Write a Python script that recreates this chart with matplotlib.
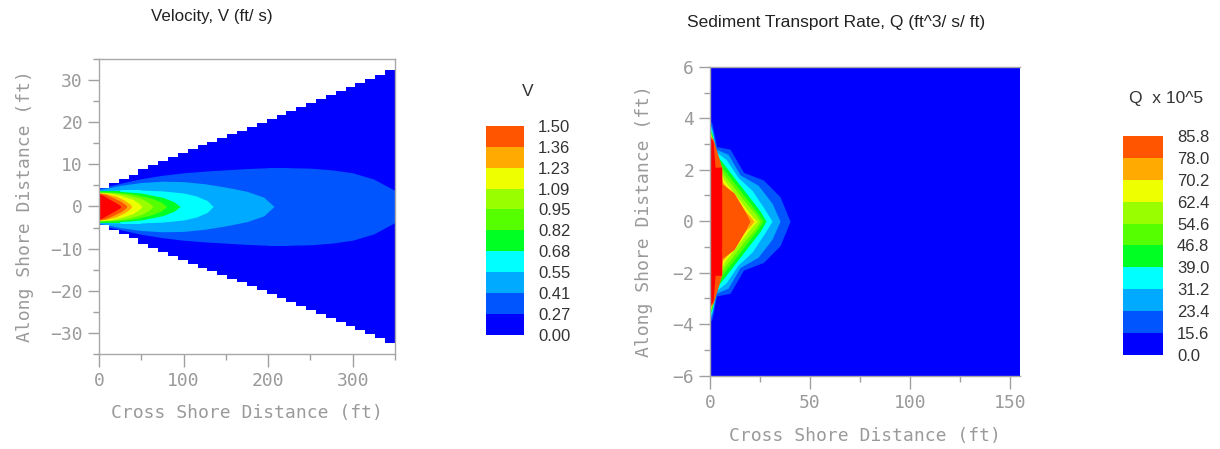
import numpy as np
import matplotlib.pyplot as plt
from matplotlib.colors import ListedColormap, BoundaryNorm
from matplotlib.cm import ScalarMappable
from matplotlib.ticker import MultipleLocator

plt.rcParams['font.family'] = ['DejaVu Sans Mono']

# colour bands (shared by both panels), lowest band first, last one = above top level
band_colors = ['#0000ff', '#0055ff', '#00aaff', '#00ffff', '#00ff22',
               '#55ff00', '#99ff00', '#eeff00', '#ffaa00', '#ff5500']
over_color = '#ff0000'

# ---------------- velocity panel ----------------
v_levels = [0.00, 0.27, 0.41, 0.55, 0.68, 0.82, 0.95, 1.09, 1.23, 1.36, 1.50]

# stepped edge of the wetted wedge (cell edges in x, half-width in y)
wedge_x = [0, 11.7, 23.3, 35, 46.7, 58.3, 70, 81.7, 93.3, 105, 116.7, 128.3,
           140, 151.7, 163.3, 175, 186.7, 198.3, 210, 221.7, 233.3, 245,
           256.7, 268.3, 280, 291.7, 303.3, 315, 326.7, 338.3, 350]
wedge_w = [4.5, 5.5, 6.5, 7.5, 8.8, 9.8, 10.8, 11.8, 12.8, 13.7, 14.5, 15.4,
           16.3, 17.2, 18.0, 18.9, 19.8, 20.7, 21.6, 22.6, 23.6, 24.6,
           25.6, 26.5, 27.4, 28.3, 29.3, 30.3, 31.3, 32.5, 33.8]

# contour half-widths, one pair per level
v027_x = [0, 25, 50, 75, 100, 125, 150, 175, 200, 225, 250, 275, 300, 325, 350]
v027_w = [4.3, 5.5, 6.6, 7.4, 8.0, 8.4, 8.7, 9.0, 9.2, 9.2, 9.1, 8.7, 8.0, 6.5, 3.8]
v041_x = [0, 25, 50, 75, 100, 125, 150, 175, 195, 207]
v041_w = [4.0, 5.0, 5.7, 6.0, 5.9, 5.4, 4.6, 3.6, 2.2, 0]
v055_x = [0, 25, 50, 75, 100, 115, 128, 135]
v055_w = [3.8, 3.9, 3.9, 3.7, 3.2, 2.5, 1.4, 0]
v068_x = [0, 25, 50, 75, 88, 96]
v068_w = [3.6, 3.6, 3.2, 2.2, 1.2, 0]
v082_x = [0, 20, 40, 62, 74, 80]
v082_w = [3.5, 3.4, 3.0, 2.0, 1.0, 0]
v095_x = [0, 15, 32, 50, 59, 64]
v095_w = [3.4, 3.3, 2.9, 1.9, 0.9, 0]
v109_x = [0, 12, 25, 40, 47, 51]
v109_w = [3.3, 3.2, 2.7, 1.7, 0.8, 0]
v123_x = [0, 10, 20, 30, 36, 39]
v123_w = [3.25, 3.0, 2.5, 1.5, 0.7, 0]
v136_x = [0, 8, 16, 26, 31, 33]
v136_w = [3.2, 2.9, 2.2, 1.2, 0.5, 0]
v150_x = [0, 5, 12, 20, 24, 26]
v150_w = [3.1, 2.6, 1.8, 0.9, 0.4, 0]

# ---------------- sediment panel ----------------
q_levels = [0.0, 15.6, 23.4, 31.2, 39.0, 46.8, 54.6, 62.4, 70.2, 78.0, 85.8]

q156_x = [0, 1, 3.3, 10, 16.7, 26.7, 35, 40]
q156_w = [3.9, 3.8, 2.9, 2.8, 1.9, 1.6, 0.95, 0]
q234_x = [0, 1, 3, 9, 15, 24, 31, 35]
q234_w = [3.8, 3.6, 2.8, 2.6, 1.8, 1.4, 0.7, 0]
q312_x = [0, 1, 3, 8, 14, 21, 27, 31]
q312_w = [3.7, 3.5, 2.7, 2.4, 1.7, 1.2, 0.5, 0]
q390_x = [0, 1, 3, 7, 13, 19, 25, 28]
q390_w = [3.6, 3.4, 2.6, 2.2, 1.6, 1.0, 0.4, 0]
q468_x = [0, 1, 3, 7, 12, 18, 24, 26.5]
q468_w = [3.55, 3.3, 2.5, 2.0, 1.5, 0.9, 0.3, 0]
q546_x = [0, 1, 3, 7, 11, 17, 23, 25]
q546_w = [3.5, 3.25, 2.4, 1.8, 1.4, 0.8, 0.25, 0]
q624_x = [0, 1, 3, 7, 10, 16, 21, 23.5]
q624_w = [3.45, 3.2, 2.3, 1.6, 1.3, 0.7, 0.2, 0]
q702_x = [0, 1, 3, 6.5, 10, 15, 20, 22]
q702_w = [3.4, 3.2, 2.2, 1.5, 1.2, 0.6, 0.2, 0]
q780_x = [0, 1.5, 5.8, 6, 12, 17, 20]
q780_w = [3.3, 3.2, 2.1, 1.45, 1.1, 0.45, 0]
q858_x = [0, 1.5, 2.5, 5.8, 5.8]
q858_w = [3.25, 3.1, 2.1, 2.1, 0]

v_bands = [(v027_x, v027_w), (v041_x, v041_w), (v055_x, v055_w), (v068_x, v068_w),
           (v082_x, v082_w), (v095_x, v095_w), (v109_x, v109_w), (v123_x, v123_w),
           (v136_x, v136_w), (v150_x, v150_w)]
q_bands = [(q156_x, q156_w), (q234_x, q234_w), (q312_x, q312_w), (q390_x, q390_w),
           (q468_x, q468_w), (q546_x, q546_w), (q624_x, q624_w), (q702_x, q702_w),
           (q780_x, q780_w), (q858_x, q858_w)]
fill_colors = band_colors[1:] + [over_color]

gray = '#9a9a9a'
fig = plt.figure(figsize=(12.2, 4.49), dpi=100)


def style_axes(ax, xmaj, xmin, ymaj, ymin):
    for s in ax.spines.values():
        s.set_color('#a8a8a8')
        s.set_linewidth(1.0)
    ax.xaxis.set_major_locator(MultipleLocator(xmaj))
    ax.xaxis.set_minor_locator(MultipleLocator(xmin))
    ax.yaxis.set_major_locator(MultipleLocator(ymaj))
    ax.yaxis.set_minor_locator(MultipleLocator(ymin))
    ax.tick_params(which='major', direction='out', color='#a0a0a0', labelcolor=gray,
                   labelsize=13, width=1.0)
    ax.tick_params(axis='x', which='major', length=9.5)
    ax.tick_params(axis='y', which='major', length=8)
    ax.tick_params(which='minor', direction='out', color='#a0a0a0', length=4.5, width=1.0)


# left panel
ax1 = fig.add_axes([0.0811, 0.2116, 0.2426, 0.657])
wedge_wext = wedge_w[:-1] + [wedge_w[-1]]
wedge = ax1.fill_between(wedge_x, [-w for w in wedge_wext], wedge_wext, step='post',
                         color=band_colors[0], lw=0)
clip = wedge.get_paths()[0]
for (bx, bw), c in zip(v_bands, fill_colors):
    p = ax1.fill_between(bx, [-w for w in bw], bw, color=c, lw=0)
    p.set_clip_path(clip, ax1.transData)
ax1.set_xlim(0, 350)
ax1.set_ylim(-35, 35)
style_axes(ax1, 100, 50, 10, 5)
ax1.set_xlabel('Cross Shore Distance (ft)', color=gray, fontsize=13, labelpad=10)
ax1.set_ylabel('Along Shore Distance (ft)', color=gray, fontsize=13, labelpad=12)
fig.text(212 / 1220, 1 - 17 / 449, 'Velocity, V (ft/ s)', ha='center', va='center',
         fontsize=12.2, family='Liberation Sans', color='#222222')

# right panel
ax2 = fig.add_axes([0.582, 0.1633, 0.2541, 0.688])
ax2.set_facecolor(band_colors[0])
for (bx, bw), c in zip(q_bands, fill_colors):
    ax2.fill_between(bx, [-w for w in bw], bw, color=c, lw=0)
ax2.set_xlim(0, 155)
ax2.set_ylim(-6, 6)
style_axes(ax2, 50, 25, 2, 1)
ax2.spines['right'].set_visible(False)
ax2.set_xlabel('Cross Shore Distance (ft)', color=gray, fontsize=13, labelpad=11)
ax2.set_ylabel('Along Shore Distance (ft)', color=gray, fontsize=13, labelpad=14)
fig.text(836 / 1220, 1 - 22 / 449, 'Sediment Transport Rate, Q (ft^3/ s/ ft)',
         ha='center', va='center', fontsize=12.5, family='Liberation Sans', color='#222222')


def add_cbar(rect, levels, fmt, title, title_xy):
    cax = fig.add_axes(rect)
    cmap = ListedColormap(band_colors)
    norm = BoundaryNorm(levels, cmap.N)
    cb = fig.colorbar(ScalarMappable(norm=norm, cmap=cmap), cax=cax, ticks=levels,
                      spacing='uniform', format=fmt)
    cb.outline.set_visible(False)
    cax.tick_params(length=0, pad=10, labelsize=12, labelcolor='#333333')
    for t in cax.get_yticklabels():
        t.set_fontfamily('Liberation Sans')
    fig.text(title_xy[0] / 1220, 1 - title_xy[1] / 449, title, ha='center', va='center',
             fontsize=12.5, family='Liberation Sans', color='#333333')


add_cbar([0.3984, 0.2539, 0.0311, 0.466], v_levels, '%.2f', 'V', (528, 91))
add_cbar([0.9203, 0.2094, 0.033, 0.4878], q_levels, '%.1f', 'Q  x 10^5', (1166, 99))

fig.savefig('out.png', dpi=100)
